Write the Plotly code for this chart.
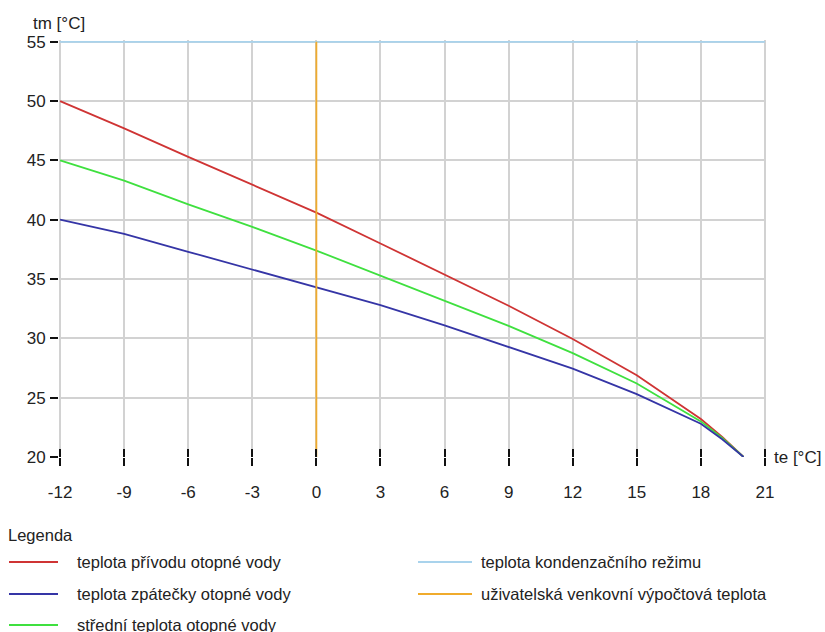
import plotly.graph_objects as go

# Outdoor temperature te [°C] and heating water temperatures tm [°C]
te = [-12, -9, -6, -3, 0, 3, 6, 9, 12, 15, 18, 19, 20]
supply = [50, 47.7, 45.3, 42.95, 40.6, 38.0, 35.4, 32.75, 29.95, 26.9, 23.2, 21.7, 20]
mean = [45, 43.3, 41.3, 39.4, 37.4, 35.3, 33.2, 31.05, 28.75, 26.2, 23.0, 21.6, 20]
ret = [40, 38.8, 37.3, 35.8, 34.3, 32.8, 31.1, 29.3, 27.45, 25.3, 22.8, 21.5, 20]

condensing_temp = 55        # condensation regime limit
design_outdoor_temp = 0     # user outdoor design temperature
te_span = [-12, 21]
tm_span = [20, 55]

x_ticks = [-12, -9, -6, -3, 0, 3, 6, 9, 12, 15, 18, 21]
x_tick_text = ["-12", "-9", "-6", "-3", "0", "3", "6", "9", "12", "15", "18", "21"]
y_ticks = [20, 25, 30, 35, 40, 45, 50, 55]

names = [
    "teplota přívodu otopné vody",
    "teplota zpátečky otopné vody",
    "střední teplota otopné vody",
    "teplota kondenzačního režimu",
    "uživatelská venkovní výpočtová teplota",
]
colors = ["#cf3434", "#3535a6", "#3fe03f", "#a9d3ec", "#f0ab2c"]

W, H = 825, 632
M = dict(l=59, r=59, t=40, b=175)
FONT = "Liberation Sans, Arial, sans-serif"
TXT = "#222"

fig = go.Figure()

fig.add_trace(go.Scatter(x=te, y=supply, mode="lines", name=names[0],
                         line=dict(color=colors[0], width=1.8)))
fig.add_trace(go.Scatter(x=te, y=mean, mode="lines", name=names[2],
                         line=dict(color=colors[2], width=1.8)))
fig.add_trace(go.Scatter(x=te, y=ret, mode="lines", name=names[1],
                         line=dict(color=colors[1], width=1.8)))
fig.add_trace(go.Scatter(x=te_span, y=[condensing_temp, condensing_temp], mode="lines",
                         name=names[3], line=dict(color=colors[3], width=1.8)))
fig.add_trace(go.Scatter(x=[design_outdoor_temp, design_outdoor_temp], y=tm_span, mode="lines",
                         name=names[4], line=dict(color=colors[4], width=1.8)))
# invisible trace carrying the inward half of the x ticks
fig.add_trace(go.Scatter(x=te_span, y=tm_span, mode="lines", xaxis="x2",
                         line=dict(width=0), hoverinfo="skip", showlegend=False))

grid = "#d2d2d2"
xr = [te_span[0] - 0.05, te_span[1] + 0.05]
fig.update_layout(
    width=W, height=H, margin=dict(**M, pad=0),
    plot_bgcolor="white", paper_bgcolor="white",
    showlegend=False,
    font=dict(family=FONT, size=17, color=TXT),
    xaxis=dict(range=xr, tickvals=x_ticks, ticktext=x_tick_text,
               showgrid=True, gridcolor=grid, gridwidth=1.5, zeroline=False,
               showline=False, ticks="outside", ticklen=8, tickwidth=1.5,
               tickcolor="#111", ticklabelstandoff=12,
               tickfont=dict(family=FONT, size=17, color=TXT)),
    xaxis2=dict(overlaying="x", side="bottom", range=xr,
                tickvals=x_ticks, showticklabels=False, showgrid=False, zeroline=False,
                ticks="inside", ticklen=8, tickwidth=1.5, tickcolor="#111"),
    yaxis=dict(range=[tm_span[0], tm_span[1] + 0.15], tickvals=y_ticks,
               showgrid=True, gridcolor=grid, gridwidth=1.5, zeroline=False,
               showline=False, ticks="outside", ticklen=8, tickwidth=1.5,
               tickcolor="#111", ticklabelstandoff=1,
               tickfont=dict(family=FONT, size=17, color=TXT)),
)

# pixel -> paper coordinate helpers for text and the legend block
pw = W - M["l"] - M["r"]
ph = H - M["t"] - M["b"]


def px(xp):
    return (xp - M["l"]) / pw


def py(yp):
    return (H - M["b"] - yp) / ph


annotations = [
    dict(text="tm [°C]", x=px(31), y=py(23), xanchor="left", yanchor="middle", size=17),
    dict(text="te [°C]", x=px(772), y=py(457), xanchor="left", yanchor="middle", size=17),
    dict(text="Legenda", x=px(6), y=py(535), xanchor="left", yanchor="middle", size=16.5),
]

# legend laid out in two columns
legend_pos = [(0, 562), (0, 594), (0, 625), (1, 562), (1, 594)]
col_line = [(9, 58), (418, 472)]
col_text = [75, 479]
shapes = []
for (col, yy), name, c in zip(legend_pos, names, colors):
    x0, x1 = col_line[col]
    shapes.append(dict(type="line", xref="paper", yref="paper",
                       x0=px(x0), x1=px(x1), y0=py(yy), y1=py(yy),
                       line=dict(color=c, width=2.2)))
    annotations.append(dict(text=name, x=px(col_text[col]), y=py(yy),
                            xanchor="left", yanchor="middle", size=16.5))

for a in annotations:
    size = a.pop("size")
    a.update(xref="paper", yref="paper", showarrow=False,
             font=dict(family=FONT, size=size, color=TXT))

fig.update_layout(annotations=annotations, shapes=shapes)

fig.write_html("out.html")
